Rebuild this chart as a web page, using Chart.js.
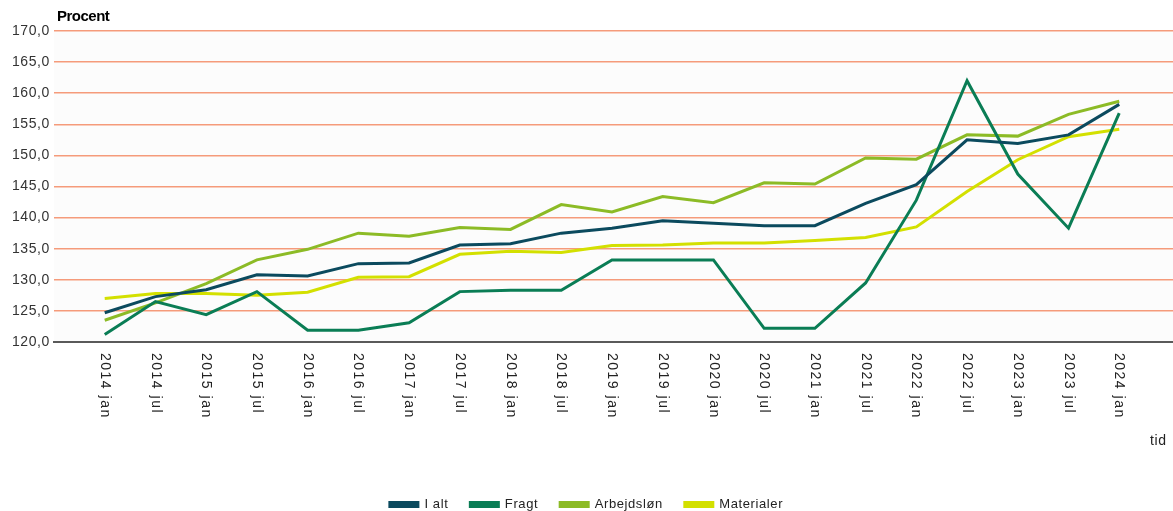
<!DOCTYPE html>
<html>
<head>
<meta charset="utf-8">
<script src="https://cdn.jsdelivr.net/npm/chart.js@4"></script>
<style>
  html, body { margin: 0; padding: 0; background: #fff; overflow: hidden; }
  #wrap { width: 1173px; height: 511px; overflow: hidden; }
</style>
</head>
<body id="body">
<div id="wrap"><canvas id="myChart" width="1173" height="521"></canvas></div>
<script>
let categories = ["2014 jan", "2014 jul", "2015 jan", "2015 jul", "2016 jan", "2016 jul", "2017 jan",
    "2017 jul", "2018 jan", "2018 jul", "2019 jan", "2019 jul", "2020 jan", "2020 jul", "2021 jan",
    "2021 jul", "2022 jan", "2022 jul", "2023 jan", "2023 jul", "2024 jan"];
let iAlt =       [124.7, 127.3, 128.4, 130.8, 130.6, 132.6, 132.7, 135.6, 135.8, 137.5, 138.3, 139.5, 139.1, 138.7, 138.7, 142.3, 145.3, 152.5, 151.9, 153.3, 158.2];
let fragt =      [121.2, 126.5, 124.4, 128.1, 121.9, 121.9, 123.1, 128.1, 128.3, 128.3, 133.2, 133.2, 133.2, 122.2, 122.2, 129.5, 142.8, 162.0, 147.0, 138.3, 156.8];
let arbejdslon = [123.5, 126.3, 129.4, 133.2, 134.9, 137.5, 137.0, 138.4, 138.1, 142.1, 140.9, 143.4, 142.4, 145.6, 145.4, 149.6, 149.4, 153.3, 153.1, 156.6, 158.7];
let materialer = [127.0, 127.8, 127.8, 127.5, 128.0, 130.4, 130.5, 134.1, 134.6, 134.4, 135.5, 135.6, 135.9, 135.9, 136.3, 136.8, 138.5, 144.2, 149.3, 153.0, 154.2];
let seriesNames = ["I alt", "Fragt", "Arbejdsløn", "Materialer"];
let colorArr = ["#0b4a5e", "#0a7d55", "#8cbb26", "#d3e000"];
let yMin = 120, yMax = 170, yStep = 5;

function points(arr) {
    return arr.map((v, i) => ({ x: i, y: v }));
}

// plot background, letter spacing, rotated category labels, axis titles
let extras = {
    id: "extras",
    beforeLayout(chart) {
        chart.ctx.letterSpacing = "0.6px";
    },
    beforeDraw(chart) {
        let ctx = chart.ctx;
        let a = chart.chartArea;
        ctx.letterSpacing = "0.6px";
        ctx.save();
        ctx.fillStyle = "#fcfcfc";
        ctx.fillRect(a.left, a.top, a.right - a.left, a.bottom - a.top);
        ctx.restore();
    },
    afterDraw(chart) {
        let ctx = chart.ctx;
        let a = chart.chartArea;
        let xs = chart.scales.x;
        ctx.save();
        ctx.font = '14px "Liberation Sans", Arial, sans-serif';
        ctx.fillStyle = "#222";
        ctx.letterSpacing = "1.5px";
        ctx.textAlign = "left";
        ctx.textBaseline = "middle";
        categories.forEach((c, i) => {
            ctx.save();
            ctx.translate(xs.getPixelForValue(i), a.bottom + 11);
            ctx.rotate(Math.PI / 2);
            ctx.fillText(c, 0, 0);
            ctx.restore();
        });
        ctx.letterSpacing = "0.6px";
        ctx.fillText("tid", 1150, 441);
        ctx.font = 'bold 15px "Liberation Sans Narrow", "Liberation Sans", Arial, sans-serif';
        ctx.letterSpacing = "-0.5px";
        ctx.fillStyle = "#000";
        ctx.fillText("Procent", 57, 17);
        ctx.restore();
    }
};

let allData = [iAlt, fragt, arbejdslon, materialer];

let myChart = document.querySelector("#myChart");
let mainChart = new Chart(myChart, {
    type: "line",
    data: {
        datasets: allData.map((arr, k) => ({
            label: seriesNames[k],
            data: points(arr),
            borderColor: colorArr[k],
            backgroundColor: colorArr[k],
            borderWidth: 3,
            pointRadius: 0,
            tension: 0,
            fill: false
        }))
    },
    options: {
        responsive: false,
        animation: false,
        layout: { padding: { top: 31, right: 0, left: 0, bottom: 0 } },
        plugins: {
            tooltip: { enabled: false },
            legend: {
                position: "bottom",
                labels: {
                    boxWidth: 28,
                    boxHeight: 4,
                    padding: 22,
                    color: "#222",
                    font: { family: '"Liberation Sans", Arial, sans-serif', size: 13 }
                }
            }
        },
        scales: {
            x: {
                type: "linear",
                min: -1,
                max: 21.06,
                grid: { display: false, drawTicks: false },
                border: { display: true, color: "#5a5a5a", width: 2 },
                ticks: { display: false },
                afterFit(scale) { scale.height = 134; }
            },
            y: {
                min: yMin,
                max: yMax,
                grid: { color: "#f59b7b", lineWidth: 1.5, drawTicks: false },
                border: { display: false },
                ticks: {
                    stepSize: yStep,
                    padding: 4,
                    color: "#333",
                    font: { family: '"Liberation Sans", Arial, sans-serif', size: 14 },
                    callback: v => v.toFixed(1).replace(".", ",")
                },
                afterFit(scale) { scale.width = 54; }
            }
        }
    },
    plugins: [extras]
});
</script>
</body>
</html>
